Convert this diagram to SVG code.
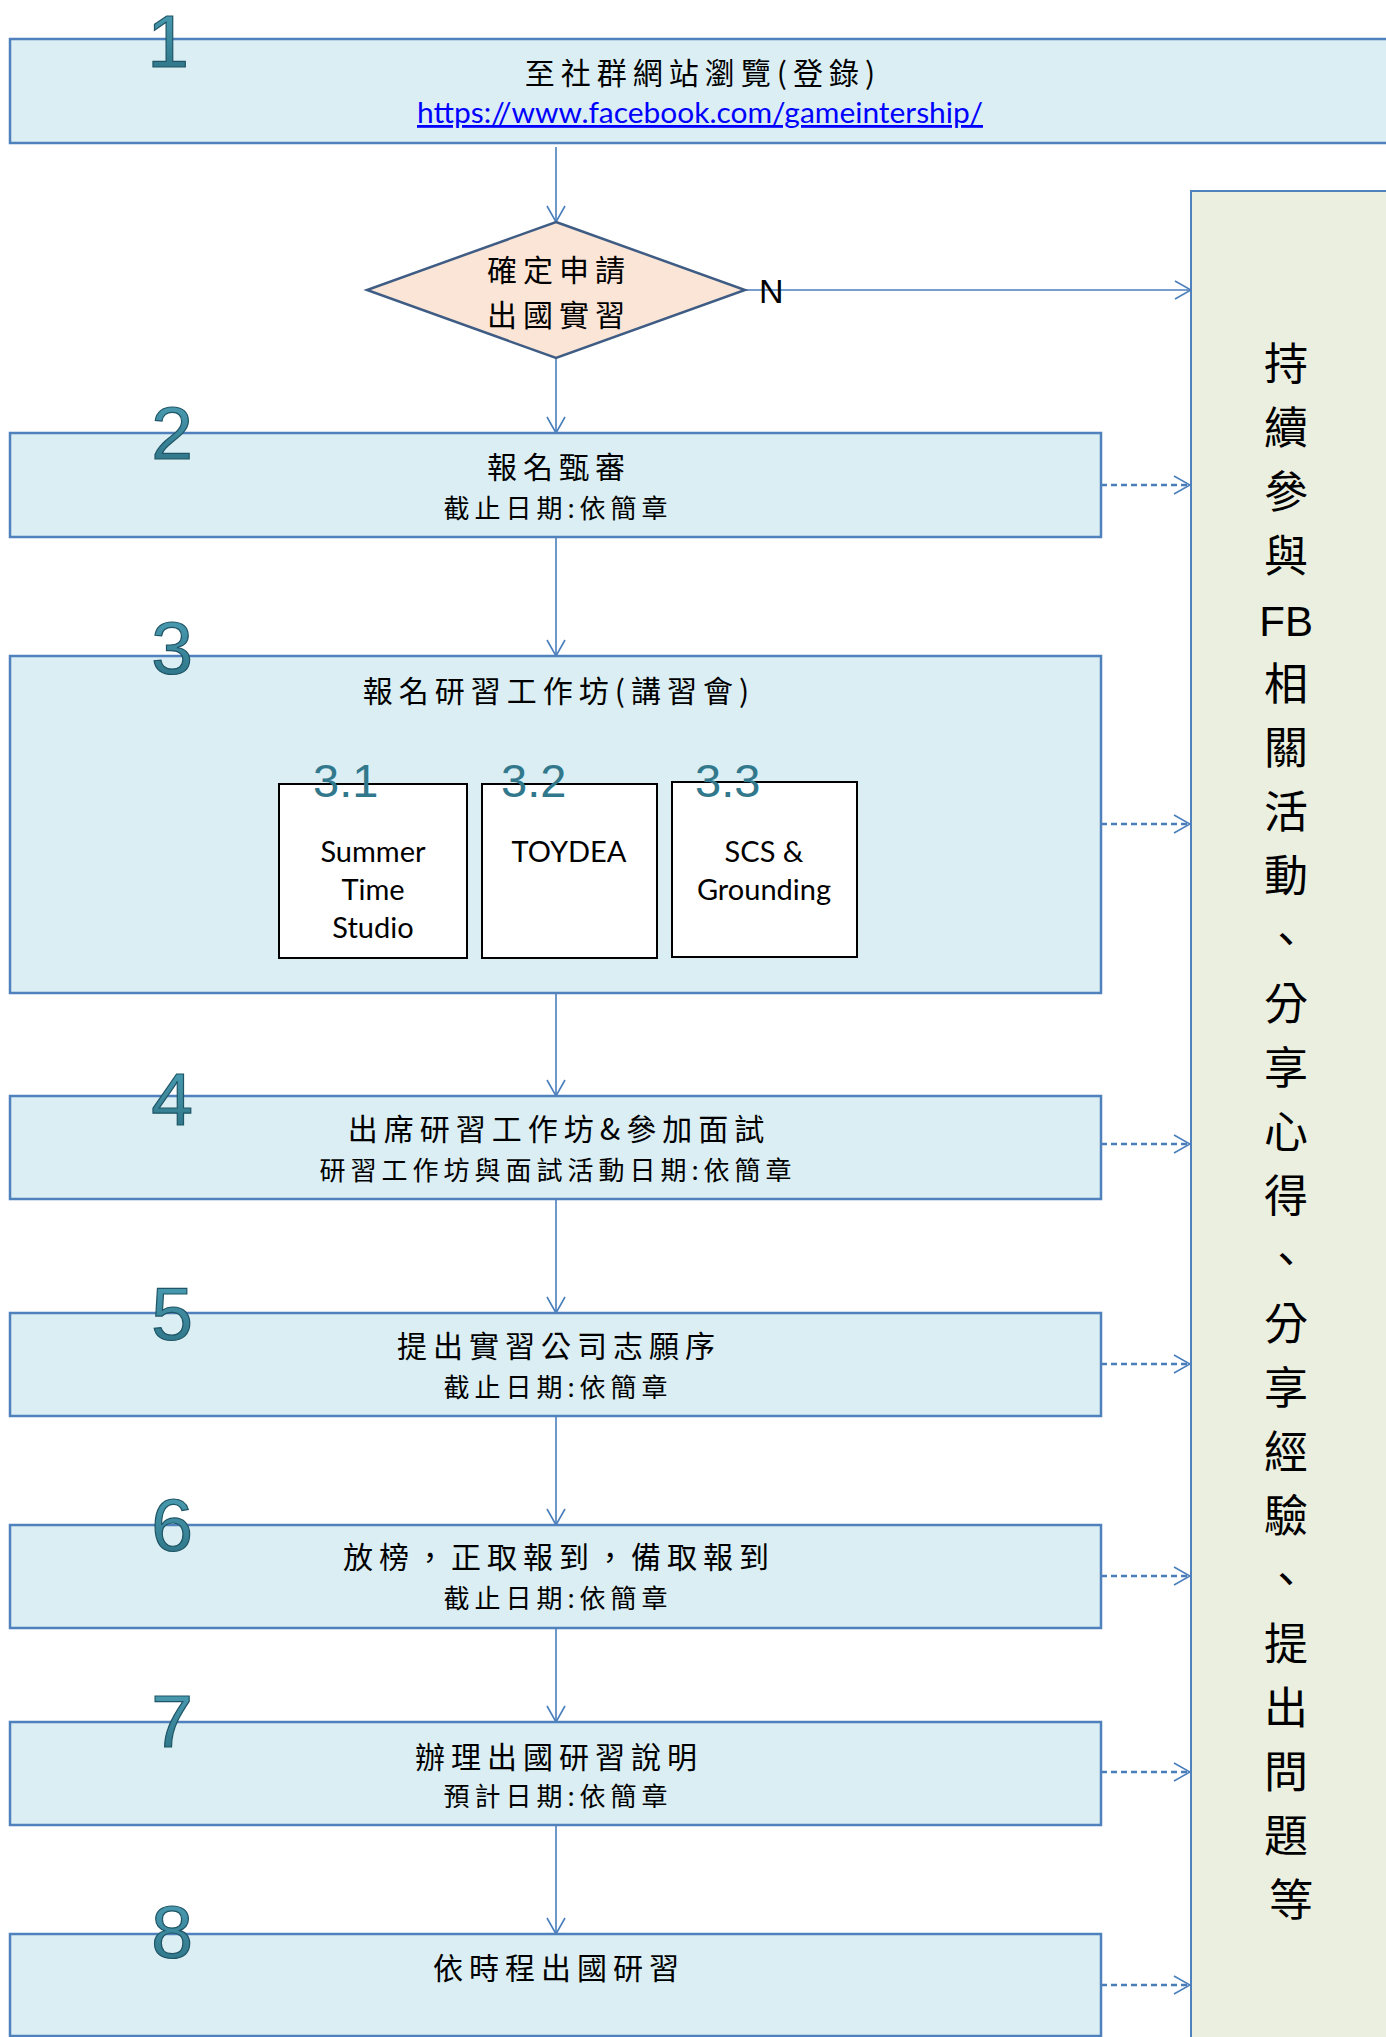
<svg xmlns="http://www.w3.org/2000/svg" width="1386" height="2037" viewBox="0 0 1386 2037">
<defs>
<style>
.box{fill:#DAEEF3;stroke:#4F81BD;stroke-width:2.5}
.sub{fill:#FFFFFF;stroke:#000000;stroke-width:2}
.t1{font-family:"Noto Sans CJK TC","Noto Sans CJK SC",sans-serif;font-size:30px;letter-spacing:6px;fill:#000;text-anchor:middle}
.t2{font-family:"Noto Sans CJK TC","Noto Sans CJK SC",sans-serif;font-size:26px;letter-spacing:5px;fill:#000;text-anchor:middle}
.num{font-family:"Liberation Sans",Arial,sans-serif;font-size:75px;fill:url(#ng);stroke:#1F5566;stroke-width:1.2;text-anchor:middle}
.snum{font-family:"Liberation Sans",Arial,sans-serif;font-size:47px;fill:#31788C}
.lat{font-family:Lato,"Liberation Sans",sans-serif;font-size:29px;fill:#000;text-anchor:middle}
.side{font-family:"Noto Sans CJK TC","Noto Sans CJK SC",sans-serif;font-size:44px;fill:#000;text-anchor:middle}
.con{stroke:#4A7EBB;stroke-width:1.6;fill:none}
.dash{stroke:#4A7EBB;stroke-width:2.5;stroke-dasharray:6 4;fill:none}
</style>
<linearGradient id="ng" x1="0" y1="0" x2="0" y2="1">
<stop offset="0" stop-color="#4FA3BA"/>
<stop offset="1" stop-color="#2A6E80"/>
</linearGradient>
<marker id="ah" viewBox="0 0 18 20" refX="17" refY="10" markerWidth="18" markerHeight="20" markerUnits="userSpaceOnUse" orient="auto">
<path d="M1,1 L17,10 L1,19" fill="none" stroke="#4A7EBB" stroke-width="1.6"/>
</marker>
</defs>
<rect width="1386" height="2037" fill="#FFFFFF"/>

<g id="side-panel">
<rect x="1191" y="191" width="220" height="1870" fill="#EBEFDF" stroke="#4F81BD" stroke-width="2"/>
<text class="side">
<tspan x="1291" y="380">持</tspan>
<tspan x="1291" y="444">續</tspan>
<tspan x="1291" y="508">參</tspan>
<tspan x="1291" y="572">與</tspan>
<tspan x="1291" y="636" font-family="Liberation Sans,Arial,sans-serif" font-size="42">FB</tspan>
<tspan x="1291" y="700">相</tspan>
<tspan x="1291" y="764">關</tspan>
<tspan x="1291" y="828">活</tspan>
<tspan x="1291" y="892">動</tspan>
<tspan x="1291" y="956">、</tspan>
<tspan x="1291" y="1020">分</tspan>
<tspan x="1291" y="1084">享</tspan>
<tspan x="1291" y="1148">心</tspan>
<tspan x="1291" y="1212">得</tspan>
<tspan x="1291" y="1276">、</tspan>
<tspan x="1291" y="1340">分</tspan>
<tspan x="1291" y="1404">享</tspan>
<tspan x="1291" y="1468">經</tspan>
<tspan x="1291" y="1532">驗</tspan>
<tspan x="1291" y="1596">、</tspan>
<tspan x="1291" y="1660">提</tspan>
<tspan x="1291" y="1724">出</tspan>
<tspan x="1291" y="1788">問</tspan>
<tspan x="1291" y="1852">題</tspan>
<tspan x="1291" y="1916">等</tspan>
</text>
</g>

<g id="connectors">
<line class="con" x1="556" y1="147" x2="556" y2="222" marker-end="url(#ah)"/>
<line class="con" x1="556" y1="358" x2="556" y2="433" marker-end="url(#ah)"/>
<line class="con" x1="556" y1="537" x2="556" y2="656" marker-end="url(#ah)"/>
<line class="con" x1="556" y1="993" x2="556" y2="1096" marker-end="url(#ah)"/>
<line class="con" x1="556" y1="1199" x2="556" y2="1313" marker-end="url(#ah)"/>
<line class="con" x1="556" y1="1416" x2="556" y2="1525" marker-end="url(#ah)"/>
<line class="con" x1="556" y1="1628" x2="556" y2="1722" marker-end="url(#ah)"/>
<line class="con" x1="556" y1="1825" x2="556" y2="1934" marker-end="url(#ah)"/>
<line class="con" x1="745" y1="290" x2="1191" y2="290" stroke-width="2" marker-end="url(#ah)"/>
<line class="dash" x1="1101" y1="485" x2="1190" y2="485" marker-end="url(#ah)"/>
<line class="dash" x1="1101" y1="824" x2="1190" y2="824" marker-end="url(#ah)"/>
<line class="dash" x1="1101" y1="1144" x2="1190" y2="1144" marker-end="url(#ah)"/>
<line class="dash" x1="1101" y1="1364" x2="1190" y2="1364" marker-end="url(#ah)"/>
<line class="dash" x1="1101" y1="1576" x2="1190" y2="1576" marker-end="url(#ah)"/>
<line class="dash" x1="1101" y1="1772" x2="1190" y2="1772" marker-end="url(#ah)"/>
<line class="dash" x1="1101" y1="1985" x2="1190" y2="1985" marker-end="url(#ah)"/>
<text x="759" y="303" font-family="Liberation Sans,Arial,sans-serif" font-size="34" fill="#000">N</text>
</g>

<g id="node1">
<rect class="box" x="10" y="39" width="1400" height="104"/>
<text class="t1" x="703" y="84" font-size="28">至社群網站瀏覽(登錄)</text>
<text x="700" y="123" font-family="Lato,'Liberation Sans',sans-serif" font-size="28" fill="#0000FF" text-anchor="middle" text-decoration="underline" textLength="566" lengthAdjust="spacingAndGlyphs">https://www.facebook.com/gameintership/</text>
<text class="num" x="168" y="67">1</text>
</g>

<g id="decision">
<polygon points="556,222 745,290 556,358 367,290" fill="#FBE5D6" stroke="#3E5C84" stroke-width="2.5"/>
<text class="t1" x="559" y="281">確定申請</text>
<text class="t1" x="559" y="326">出國實習</text>
</g>

<g id="node2">
<rect class="box" x="10" y="433" width="1091" height="104"/>
<text class="t1" x="559" y="478">報名甄審</text>
<text class="t2" x="558" y="518">截止日期:依簡章</text>
<text class="num" x="172" y="459">2</text>
</g>

<g id="node3">
<rect class="box" x="10" y="656" width="1091" height="337"/>
<text class="t1" x="559" y="702">報名研習工作坊(講習會)</text>
<text class="num" x="172" y="674">3</text>
<g id="node3-1">
<rect class="sub" x="279" y="784" width="188" height="174"/>
<text class="lat" x="373" y="862">Summer</text>
<text class="lat" x="373" y="900">Time</text>
<text class="lat" x="373" y="938">Studio</text>
<text class="snum" x="313" y="797">3.1</text>
</g>
<g id="node3-2">
<rect class="sub" x="482" y="784" width="175" height="174"/>
<text class="lat" x="569" y="862">TOYDEA</text>
<text class="snum" x="501" y="797">3.2</text>
</g>
<g id="node3-3">
<rect class="sub" x="672" y="782" width="185" height="175"/>
<text class="lat" x="764" y="862">SCS &amp;</text>
<text class="lat" x="764" y="900">Grounding</text>
<text class="snum" x="695" y="797">3.3</text>
</g>
</g>

<g id="node4">
<rect class="box" x="10" y="1096" width="1091" height="103"/>
<text class="t1" x="559" y="1140">出席研習工作坊&amp;參加面試</text>
<text class="t2" x="558" y="1180">研習工作坊與面試活動日期:依簡章</text>
<text class="num" x="172" y="1125">4</text>
</g>

<g id="node5">
<rect class="box" x="10" y="1313" width="1091" height="103"/>
<text class="t1" x="559" y="1357">提出實習公司志願序</text>
<text class="t2" x="558" y="1397">截止日期:依簡章</text>
<text class="num" x="172" y="1340">5</text>
</g>

<g id="node6">
<rect class="box" x="10" y="1525" width="1091" height="103"/>
<text class="t1" x="559" y="1568">放榜，正取報到，備取報到</text>
<text class="t2" x="558" y="1608">截止日期:依簡章</text>
<text class="num" x="172" y="1551">6</text>
</g>

<g id="node7">
<rect class="box" x="10" y="1722" width="1091" height="103"/>
<text class="t1" x="559" y="1768">辦理出國研習說明</text>
<text class="t2" x="558" y="1806">預計日期:依簡章</text>
<text class="num" x="172" y="1747">7</text>
</g>

<g id="node8">
<rect class="box" x="10" y="1934" width="1091" height="102"/>
<text class="t1" x="559" y="1979">依時程出國研習</text>
<text class="num" x="172" y="1958">8</text>
</g>
</svg>
